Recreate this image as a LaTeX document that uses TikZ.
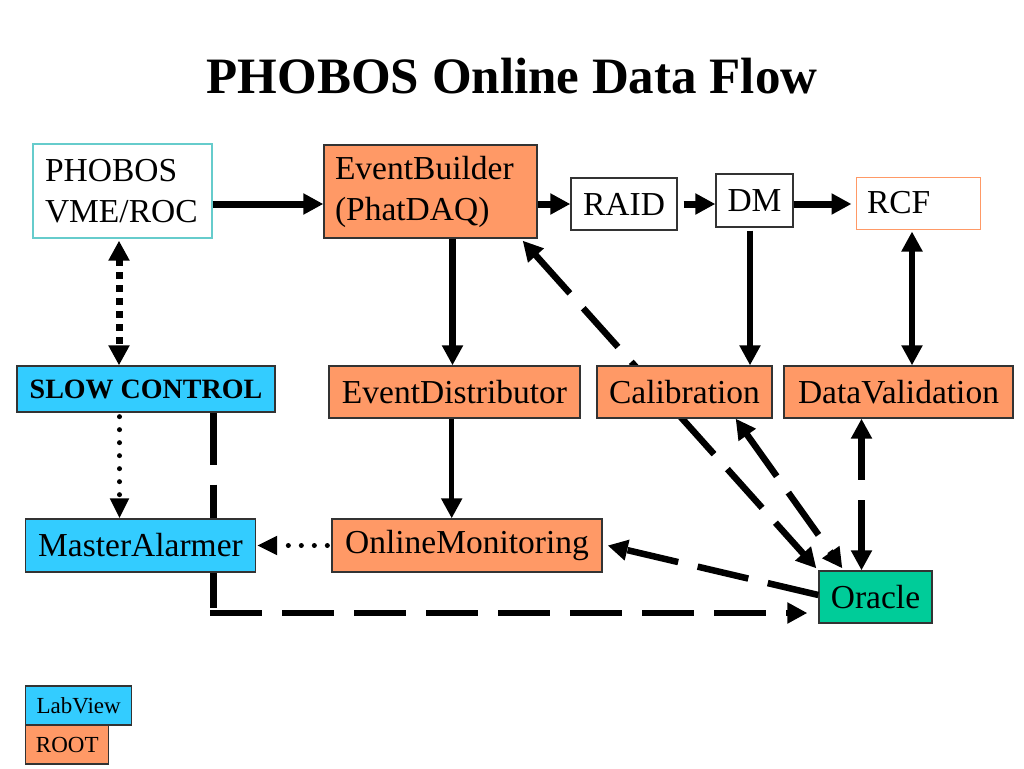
\documentclass[tikz,border=0pt]{standalone}
\usepackage{fontspec}
\setmainfont{Liberation Serif}
\usetikzlibrary{arrows.meta}
\pgfdeclarelayer{background}
\pgfsetlayers{background,main}
\definecolor{rootc}{HTML}{FF9966}
\definecolor{labc}{HTML}{33CCFF}
\definecolor{orac}{HTML}{00CC99}
\definecolor{tealb}{HTML}{66CCCC}
\definecolor{boxb}{HTML}{333333}
\tikzset{
  box/.style={draw=boxb, line width=1.3pt, inner sep=0pt, font=\fontsize{33.5}{41}\selectfont},
  rootbox/.style={box, fill=rootc},
  labbox/.style={box, fill=labc},
  orabox/.style={box, fill=orac},
  legend/.style={box, font=\fontsize{23}{27}\selectfont},
  solidarrow/.style={line width=6.5pt, -{Triangle[length=20pt,width=20pt]}},
  solidboth/.style={line width=6.5pt, {Triangle[length=20pt,width=20pt]}-{Triangle[length=20pt,width=20pt]}},
  dashline/.style={line width=6.5pt, dash pattern=on 52pt off 20pt},
  dasharrow/.style={dashline, -{Triangle[length=20pt,width=20pt]}},
  dashboth/.style={dashline, {Triangle[length=20pt,width=20pt]}-{Triangle[length=20pt,width=20pt]}},
  dotround/.style={line width=5pt, line cap=round, dash pattern=on 0pt off 13pt, -{Triangle[length=20pt,width=18pt]}},
  dotsquare/.style={line width=7pt, dash pattern=on 7pt off 6pt, {Triangle[length=20pt,width=20pt]}-{Triangle[length=20pt,width=20pt]}}
}
\begin{document}
\begin{tikzpicture}[x=1pt,y=-1pt]
\useasboundingbox (0,0) rectangle (1024,768);
\begin{pgfonlayer}{background}
\fill[white] (0,0) rectangle (1024,768);
\end{pgfonlayer}

\node[anchor=base, font=\fontsize{51}{60}\bfseries] (title) at (512,93) {PHOBOS Online Data Flow};

% top row
\node[box, draw=tealb, fill=white, minimum width=179pt, minimum height=94pt, text width=155pt, align=left] (phobos) at (122.5,191) {PHOBOS\\VME/ROC};
\node[rootbox, minimum width=213pt, minimum height=93pt, text width=191pt, align=left] (eb) at (430.5,191.5) {EventBuilder\\(PhatDAQ)};
\node[box, fill=white, minimum width=106pt, minimum height=52pt] (raid) at (624,204) {RAID};
\node[box, fill=white, minimum width=77pt, minimum height=53pt] (dm) at (754.5,200.5) {DM};
\node[box, draw=rootc, line width=1pt, fill=white, minimum width=124pt, minimum height=52pt, text width=102pt, align=left] (rcf) at (918,203) {RCF};

% middle row
\node[labbox, minimum width=258pt, minimum height=46pt, font=\fontsize{28}{32}\bfseries] (sc) at (146,389) {SLOW CONTROL};
\node[rootbox, minimum width=251pt, minimum height=52pt] (ed) at (454.5,392) {EventDistributor};
\node[rootbox, minimum width=175pt, minimum height=52pt] (cal) at (684.5,392) {Calibration};
\node[rootbox, minimum width=229pt, minimum height=52pt] (dv) at (898.5,392) {DataValidation};

% lower row
\node[labbox, minimum width=230pt, minimum height=53pt] (ma) at (140.5,545.5) {MasterAlarmer};
\node[rootbox, minimum width=270pt, minimum height=53pt] (om) at (467,545.5) {OnlineMonitoring};
\node[orabox, minimum width=113pt, minimum height=52pt] (oracle) at (875.5,597) {Oracle};

% legend
\node[legend, fill=labc, minimum width=106pt, minimum height=39pt] (lv) at (78.7,705.5) {LabView};
\node[legend, fill=rootc, minimum width=83pt, minimum height=39pt] (root) at (67.3,744.5) {ROOT};

% connectors behind boxes
\coordinate (scdrop) at ([xshift=-62pt]sc.south east);
\coordinate (orain) at ([yshift=-16pt]oracle.west);
\coordinate (corner) at (scdrop |- orain);
\begin{pgfonlayer}{background}
\draw[dashboth] ([xshift=-15pt,yshift=-2pt]eb.south east) -- ([xshift=-2pt,yshift=2pt]oracle.north west);
\draw[dashline] (scdrop) -- ([yshift=5pt]corner);
\draw[dasharrow] ([xshift=-3.25pt]corner) -- ([xshift=-11pt]orain);
\end{pgfonlayer}

% top row arrows
\draw[solidarrow, line width=7pt] ([yshift=-13pt]phobos.east) -- ([yshift=-13pt]phobos.east -| eb.west);
\draw[solidarrow, line width=7pt] (raid.west -| eb.east) -- (raid.west);
\draw[solidarrow, line width=7pt] ([xshift=6pt]raid.east) -- (raid.east -| dm.west);
\draw[solidarrow, line width=7pt] (raid.east -| dm.east) -- ([xshift=-4pt]raid.east -| rcf.west);

% vertical connectors
\draw[dotsquare] ([xshift=-3.5pt,yshift=-2pt]phobos.south) -- ([xshift=-3.5pt]phobos.south |- sc.north);
\draw[solidarrow] ([xshift=-2pt]ed.north |- eb.south) -- ([xshift=-2pt]ed.north);
\draw[solidarrow] ([xshift=-4.5pt,yshift=-3pt]dm.south) -- ([xshift=-4.5pt]dm.south |- cal.north);
\draw[solidboth] ([xshift=-6pt,yshift=-2pt]rcf.south) -- ([xshift=-6pt]rcf.south |- dv.north);
\draw[solidarrow, line width=5.5pt] ([xshift=-2.8pt]ed.south) -- ([xshift=-2.8pt]ed.south |- om.north);
\draw[dotround] ([xshift=-21pt,yshift=-4pt]ma.north |- sc.south) -- ([xshift=-21pt]ma.north);
\draw[dotround] ([xshift=-4pt]om.west) -- ([xshift=1pt]ma.east);

% Oracle connections
\draw[dashboth] ([xshift=-37pt]cal.south east) -- ([xshift=24pt,yshift=2pt]oracle.north west);
\draw[dashboth] ([xshift=-14pt]oracle.north) -- ([xshift=-14pt]oracle.north |- dv.south);
\draw[dasharrow] ([yshift=2pt]oracle.west) -- ([xshift=5pt]om.east);
\end{tikzpicture}
\end{document}
